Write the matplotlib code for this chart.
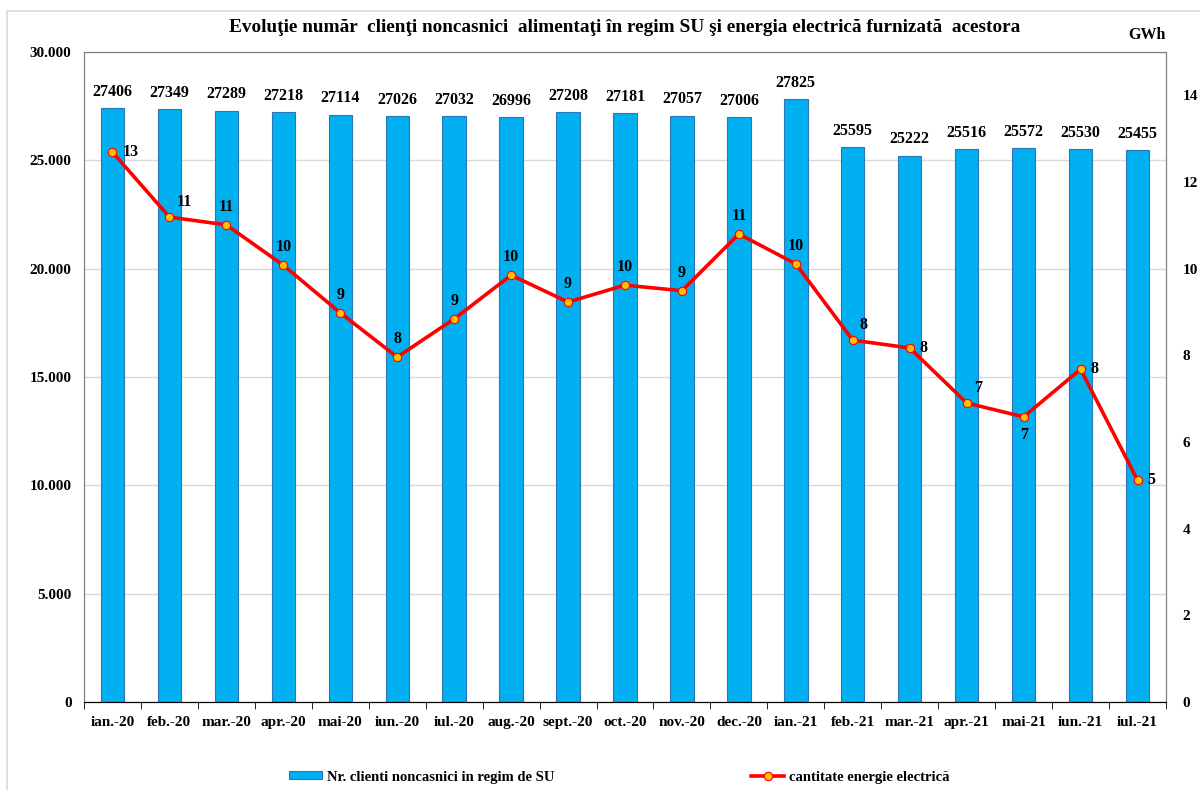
import matplotlib.pyplot as plt
from matplotlib.patches import Rectangle
from matplotlib.ticker import FuncFormatter
import numpy as np

# date
luni = ["ian.-20", "feb.-20", "mar.-20", "apr.-20", "mai-20", "iun.-20", "iul.-20",
        "aug.-20", "sept.-20", "oct.-20", "nov.-20", "dec.-20", "ian.-21", "feb.-21",
        "mar.-21", "apr.-21", "mai-21", "iun.-21", "iul.-21"]
clienti = [27406, 27349, 27289, 27218, 27114, 27026, 27032, 26996, 27208, 27181,
           27057, 27006, 27825, 25595, 25222, 25516, 25572, 25530, 25455]
energie = [12.69, 11.19, 11.01, 10.08, 8.98, 7.96, 8.84, 9.85, 9.23, 9.62,
           9.49, 10.80, 10.11, 8.35, 8.17, 6.90, 6.58, 7.68, 5.12]

titlu = "Evoluţie număr  clienţi noncasnici  alimentaţi în regim SU şi energia electrică furnizată  acestora"
eticheta_bare = "Nr. clienti noncasnici in regim de SU"
eticheta_linie = "cantitate energie electrică"

plt.rcParams["font.family"] = ["Liberation Serif", "DejaVu Serif"]
plt.rcParams["font.weight"] = "bold"

fig = plt.figure(figsize=(12, 7.9), dpi=100)
ax = fig.add_axes([84 / 1200, 1 - 702 / 790, 1082 / 1200, 650 / 790])

# chenar gri al figurii
fig.patches.append(Rectangle((7 / 1200, -0.1), 1.2, 1 - 11 / 790 + 0.1, transform=fig.transFigure,
                             fill=False, edgecolor="#D9D9D9", linewidth=1.2))

x = np.arange(len(luni))
ax.bar(x, clienti, width=0.41, color="#00B0F0", edgecolor="#2E75B6", linewidth=0.8,
       label=eticheta_bare, zorder=2)
for xi, v in zip(x, clienti):
    ax.annotate(str(v), (xi, v), xytext=(0, 6), textcoords="offset points",
                ha="center", va="bottom", fontsize=11.5, fontweight="bold")

ax.set_ylim(0, 30000)
ax.set_xlim(-0.5, len(luni) - 0.5)
ax.set_yticks(np.arange(0, 30001, 5000))
ax.yaxis.set_major_formatter(FuncFormatter(lambda v, p: f"{int(v):,}".replace(",", ".")))
ax.grid(axis="y", color="#D9D9D9", linewidth=1, zorder=0)
ax.set_axisbelow(True)
ax.set_xticks(x)
ax.set_xticklabels(luni, fontsize=11, fontweight="bold")
ax.set_xticks(np.arange(-0.5, len(luni)), minor=True)
ax.tick_params(axis="x", which="major", length=0, pad=10)
ax.tick_params(axis="x", which="minor", length=5, color="black")
ax.tick_params(axis="y", length=0, pad=9, labelsize=11)
for s in ["left", "top", "right"]:
    ax.spines[s].set_color("#808080")
ax.spines["bottom"].set_color("black")

ax2 = ax.twinx()
ax2.plot(x, energie, color="#FF0000", linewidth=2.6, marker="o", markersize=6,
         markerfacecolor="#FFC000", markeredgecolor="#FF0000", markeredgewidth=0.8,
         label=eticheta_linie, zorder=3)
ax2.set_ylim(0, 15)
ax2.set_yticks(np.arange(0, 15, 2))
ax2.tick_params(axis="y", length=0, pad=12, labelsize=11)
for s in ["left", "top", "right"]:
    ax2.spines[s].set_color("#808080")

# pozitii etichete linie
dreapta = {0, 14, 17, 18}
sus_dreapta = {1, 13, 15}
jos = {16}
for i, (xi, v) in enumerate(zip(x, energie)):
    if i in dreapta:
        off, ha, va = (7, 0), "left", "center"
    elif i in sus_dreapta:
        off, ha, va = (5, 5), "left", "bottom"
    elif i in jos:
        off, ha, va = (0, -7), "center", "top"
    else:
        off, ha, va = (0, 7), "center", "bottom"
    ax2.annotate(f"{v:.0f}", (xi, v), xytext=off, textcoords="offset points",
                 ha=ha, va=va, fontsize=11.5, fontweight="bold")

fig.text(625 / 1200, 1 - 28 / 790, titlu, ha="center", va="center", fontsize=13.9, fontweight="bold")
fig.text(1147 / 1200, 1 - 35 / 790, "GWh", ha="center", va="center", fontsize=11.5, fontweight="bold")

h1, l1 = ax.get_legend_handles_labels()
h2, l2 = ax2.get_legend_handles_labels()
fig.legend(h1 + h2, l1 + l2, loc="center", bbox_to_anchor=(619 / 1200, 1 - 777 / 790), ncol=2,
           frameon=False, fontsize=10.5, columnspacing=13.5, handlelength=2.3, handleheight=0.45,
           handletextpad=0.3)

plt.savefig("out.png")
